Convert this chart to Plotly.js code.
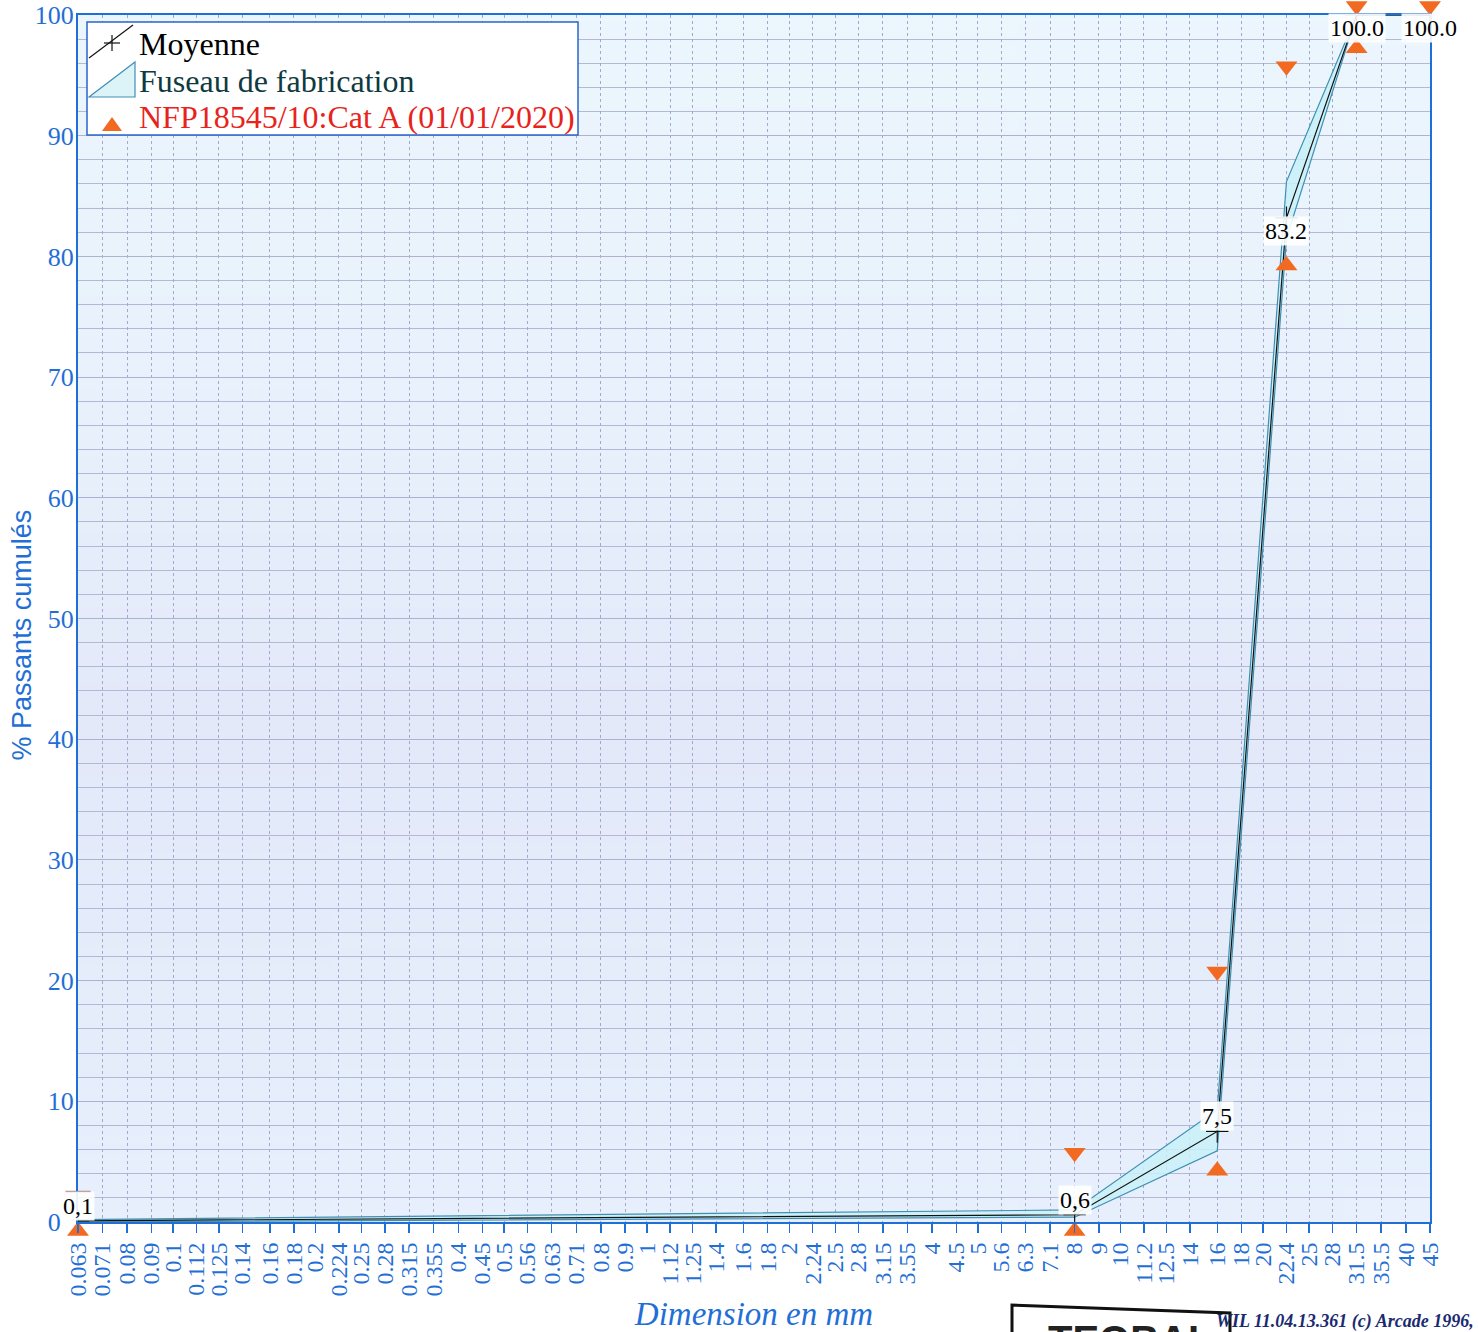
<!DOCTYPE html>
<html><head><meta charset="utf-8">
<script src="https://cdn.plot.ly/plotly-3.0.1.min.js"></script>
<style>html,body{margin:0;padding:0;background:#fff;}#chart{width:1478px;height:1332px;}</style>
</head><body><div id="chart"></div>
<script>
// ---- data ----
const sieveTicks = [0.063,0.071,0.08,0.09,0.1,0.112,0.125,0.14,0.16,0.18,0.2,0.224,0.25,0.28,0.315,0.355,0.4,0.45,0.5,0.56,0.63,0.71,0.8,0.9,1,1.12,1.25,1.4,1.6,1.8,2,2.24,2.5,2.8,3.15,3.55,4,4.5,5,5.6,6.3,7.1,8,9,10,11.2,12.5,14,16,18,20,22.4,25,28,31.5,35.5,40,45];
const yTicks = [0, 10, 20, 30, 40, 50, 60, 70, 80, 90, 100];
const sieves = [0.063, 8, 16, 22.4, 31.5, 45];
const moyenne = [0.1, 0.6, 7.5, 83.2, 100.0, 100.0];
const moyenneLabels = ["0,1", "0,6", "7,5", "83.2", "100.0", "100.0"];
const fuseauHaut = [0.2, 1.0, 9.3, 86.2, 100, 100];
const fuseauBas = [0.0, 0.4, 5.9, 81.5, 100, 100];
const specSieves = [0.063, 8, 16, 22.4, 31.5];
const specMin = [0, 0, 5, 80, 98];
const specMaxSieves = [8, 16, 22.4, 31.5, 45];
const specMax = [5, 20, 95, 100, 100];
const finesMaxSieve = [0.063];
const finesMax = [2.5];
const legendNames = ["Moyenne", "Fuseau de fabrication", "NFP18545/10:Cat A (01/01/2020)"];

const blue = '#1f6fd6';
const orange = '#f26a22';
const teal = '#3f8fb3';
const serif = 'Liberation Serif, Times New Roman, serif';

// plot area in page pixels (for the hand-drawn legend box)
const L = 78, R = 1430, T = 15, B = 1222;
const px = x => (x - L) / (R - L);
const py = y => (B - y) / (B - T);

// soft paper gradient of the plot background
const cv = document.createElement('canvas');
cv.width = 8; cv.height = 256;
const cx = cv.getContext('2d');
const g = cx.createLinearGradient(0, 0, 0, 256);
g.addColorStop(0, '#ecf6fd'); g.addColorStop(0.3, '#e9f2fc'); g.addColorStop(0.58, '#e3e9f9'); g.addColorStop(1, '#e7f0fc');
cx.fillStyle = g; cx.fillRect(0, 0, 8, 256);
const bgURL = cv.toDataURL('image/png');

const traces = [
  {x: sieves, y: fuseauBas, mode: 'lines', line: {color: teal, width: 1.2}, hoverinfo: 'skip'},
  {x: sieves, y: fuseauHaut, mode: 'lines', fill: 'tonexty', fillcolor: 'rgba(200,240,248,0.85)', line: {color: teal, width: 1.2}},
  {x: sieves, y: moyenne, mode: 'lines+markers', line: {color: '#111', width: 1.2},
   marker: {symbol: 'cross-thin-open', size: 16, line: {color: '#111', width: 1.2}}},
  {x: specSieves, y: specMin, mode: 'markers', cliponaxis: false,
   marker: {symbol: 'triangle-up', size: 19, color: orange, standoff: 9, angle: 0, line: {width: 0}}},
  {x: specMaxSieves, y: specMax, mode: 'markers', cliponaxis: false,
   marker: {symbol: 'triangle-up', size: 19, color: orange, standoff: 9, angle: 180, line: {width: 0}}},
  {x: finesMaxSieve, y: finesMax, mode: 'markers', cliponaxis: false,
   marker: {symbol: 'line-ew-open', size: 18, line: {color: '#f07050', width: 2}}}
];

const annotations = sieves.map((s, i) => ({
  x: Math.log10(s), y: moyenne[i], xref: 'x', yref: 'y', text: moyenneLabels[i],
  showarrow: false, bgcolor: 'rgba(255,255,255,0.9)', borderpad: 1,
  font: {family: serif, size: 24, color: '#000'},
  yshift: moyenne[i] > 50 ? -13 : 15
}));
// legend texts
const legendColors = ['#000000', '#0e3a40', '#e8231c'];
const legendRowY = [44, 81, 117];
legendNames.forEach((n, i) => annotations.push({
  xref: 'paper', yref: 'paper', x: px(137), y: py(legendRowY[i]), xanchor: 'left', yanchor: 'middle', showarrow: false,
  text: n, font: {family: serif, size: 32, color: legendColors[i]}
}));
annotations.push({
  xref: 'paper', yref: 'paper', x: -0.0414, y: 0.486, xanchor: 'center', yanchor: 'middle', showarrow: false, textangle: -90,
  text: '% Passants cumulés', font: {family: 'Liberation Sans, Arial, sans-serif', size: 27, color: blue}
});
annotations.push({
  xref: 'paper', yref: 'paper', x: px(1130), y: py(1340), xanchor: 'center', yanchor: 'middle', showarrow: false,
  text: '<b>TEOBAL</b>', font: {family: 'Liberation Sans, Arial, sans-serif', size: 40, color: '#222'}
});
annotations.push({
  xref: 'paper', yref: 'paper', x: px(1476), y: py(1322), xanchor: 'right', yanchor: 'middle', showarrow: false,
  text: '<b><i>WIL 11.04.13.361 (c) Arcade 1996,</i></b>', font: {family: serif, size: 18, color: '#1a2a70'}
});

const P = (pts, close) => pts.map((p, i) => (i ? 'L ' : 'M ') + px(p[0]).toFixed(5) + ',' + py(p[1]).toFixed(5)).join(' ') + (close ? ' Z' : '');

const shapes = [
  // legend box
  {type: 'rect', xref: 'paper', yref: 'paper', x0: px(87), x1: px(578), y0: py(22), y1: py(135),
   fillcolor: '#ffffff', line: {color: '#2a66c8', width: 1.5}, layer: 'above'},
  // Moyenne icon
  {type: 'path', xref: 'paper', yref: 'paper', path: P([[89, 58], [133, 25]]), line: {color: '#111', width: 1.2}, layer: 'above'},
  {type: 'path', xref: 'paper', yref: 'paper', path: P([[104, 43], [120, 43]]), line: {color: '#111', width: 1.2}, layer: 'above'},
  {type: 'path', xref: 'paper', yref: 'paper', path: P([[112, 35], [112, 51]]), line: {color: '#111', width: 1.2}, layer: 'above'},
  // Fuseau icon
  {type: 'path', xref: 'paper', yref: 'paper', path: P([[89, 97], [135, 62], [135, 97]], true),
   fillcolor: '#dcf3f8', line: {color: teal, width: 1.2}, layer: 'above'},
  // NFP icon
  {type: 'path', xref: 'paper', yref: 'paper', path: P([[102, 131], [122, 131], [112, 117]], true),
   fillcolor: orange, line: {width: 0}, layer: 'above'},
  // stamp frame
  {type: 'path', xref: 'paper', yref: 'paper', path: P([[1012, 1345], [1012, 1305], [1230, 1313], [1230, 1345]]),
   line: {color: '#111', width: 3}}
];

const layout = {
  width: 1478, height: 1332,
  margin: {l: L, r: 1478 - R, t: T, b: 1332 - B},
  paper_bgcolor: '#ffffff', plot_bgcolor: 'rgba(0,0,0,0)',
  showlegend: false,
  images: [{source: bgURL, xref: 'paper', yref: 'paper', x: 0, y: 1, sizex: 1, sizey: 1, sizing: 'stretch',
            xanchor: 'left', yanchor: 'top', layer: 'below'}],
  xaxis: {type: 'log', range: [Math.log10(0.063), Math.log10(45)], tickvals: sieveTicks, ticktext: sieveTicks.map(String),
          tickangle: -90, tickfont: {family: serif, size: 24, color: blue}, ticks: 'outside', ticklen: 9, tickcolor: blue, tickwidth: 1.5,
          showgrid: true, gridcolor: '#a3a8cc', gridwidth: 1, griddash: 'dot',
          showline: true, linecolor: blue, linewidth: 2, mirror: true, zeroline: false,
          title: {text: '<i>Dimension en mm</i>', font: {family: serif, size: 33, color: blue}, standoff: 14}},
  yaxis: {range: [0, 100], tickmode: 'array', tickvals: yTicks,
          ticktext: yTicks.map(v => v === 0 ? '0\u00a0\u00a0' : String(v)),
          tickfont: {family: serif, size: 26, color: blue}, ticks: '', ticklen: 0,
          ticklabelstandoff: -3,
          showgrid: true, gridcolor: '#aeb2d0', gridwidth: 1,
          minor: {dtick: 2, showgrid: true, gridcolor: '#b4b8d4', gridwidth: 1},
          showline: true, linecolor: blue, linewidth: 2, mirror: true, zeroline: false},
  annotations: annotations,
  shapes: shapes
};
Plotly.newPlot('chart', traces, layout, {staticPlot: true});
</script></body></html>
